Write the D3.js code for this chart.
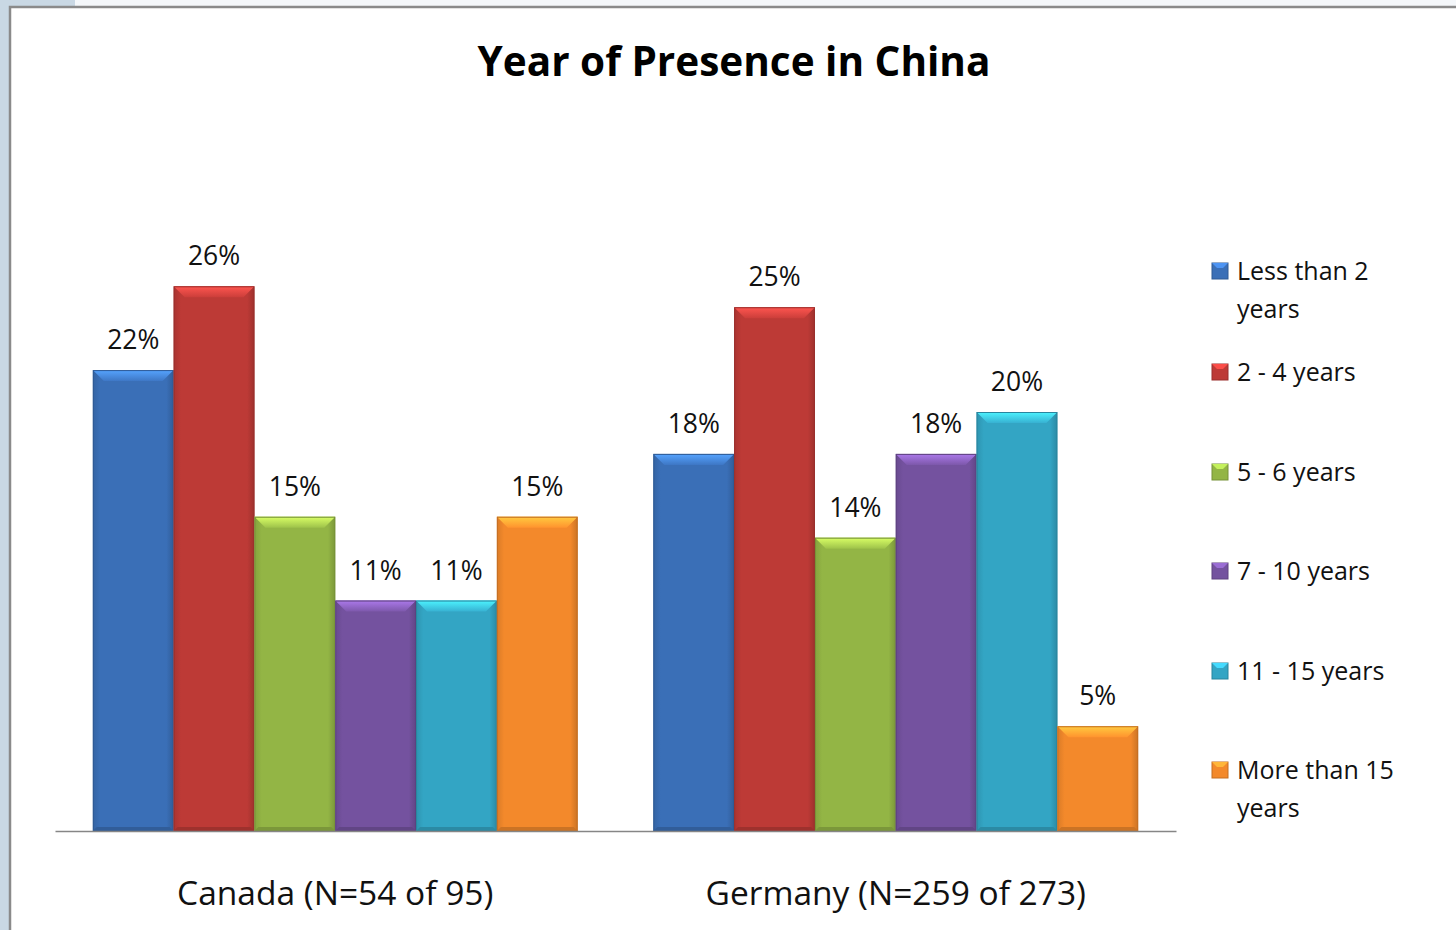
<!DOCTYPE html>
<html>
<head>
<meta charset="utf-8">
<script src="https://cdn.jsdelivr.net/npm/d3@7"></script>
<style>
  html, body { margin: 0; padding: 0; background: #fff; overflow: hidden; }
  svg { display: block; font-family: "Open Sans", "Liberation Sans", sans-serif; }
</style>
</head>
<body>
<div id="container"></div>
<script>
// chart data
const groups = ["Canada (N=54 of 95)", "Germany (N=259 of 273)"];
const seriesNames = ["Less than 2 years", "2 - 4 years", "5 - 6 years", "7 - 10 years", "11 - 15 years", "More than 15 years"];
const canadaValues = [22, 26, 15, 11, 11, 15];
const germanyValues = [18, 25, 14, 18, 20, 5];
const legendLines = [["Less than 2", "years"], ["2 - 4 years"], ["5 - 6 years"], ["7 - 10 years"], ["11 - 15 years"], ["More than 15", "years"]];
const colors = ["#3a6fb7", "#bd3a36", "#93b545", "#74529f", "#33a5c4", "#f3892b"];

const w = 1456;
const h = 930;

const svg = d3.select("#container").
  append("svg").
  attr("width", w).
  attr("height", h);

// window background round the chart frame
svg.append("rect").attr("x", 0).attr("y", 0).attr("width", w).attr("height", h).attr("fill", "#fff");
svg.append("rect").attr("x", 0).attr("y", 0).attr("width", 9).attr("height", h).attr("fill", "#c9d8e4");
svg.append("rect").attr("x", 0).attr("y", 0).attr("width", 75).attr("height", 6).attr("fill", "#c9d8e4");
svg.append("rect").attr("x", 75).attr("y", 0).attr("width", w - 75).attr("height", 6).attr("fill", "#f4f7fa");
svg.append("path").
  attr("d", `M10,${h} L10,7 L${w},7`).
  attr("fill", "none").
  attr("stroke", "#8a8a8a").
  attr("stroke-width", 2.5);

// title
svg.append("text").
  attr("x", 734).
  attr("y", 76).
  attr("text-anchor", "middle").
  attr("font-size", 40.5).
  attr("font-weight", "bold").
  attr("fill", "#000").
  text("Year of Presence in China");

const plotLeft = 55, plotRight = 1176, baseY = 831;

const x0 = d3.scaleBand().
  domain(groups).
  range([plotLeft, plotRight]).
  paddingInner(0.135).
  paddingOuter(0.0675);

const x1 = d3.scaleBand().
  domain(seriesNames).
  range([0, x0.bandwidth()]);

const yScale = d3.scaleLinear().
  domain([0, 30]).
  range([baseY, baseY - 30 * 20.95]);

const rows = [];
groups.forEach((g, gi) => {
  const vals = gi === 0 ? canadaValues : germanyValues;
  seriesNames.forEach((s, si) => rows.push({ group: g, series: s, value: vals[si], color: colors[si] }));
});

// gradients for bevelled bars
const defs = svg.append("defs");
colors.forEach((c, i) => {
  const g = defs.append("linearGradient").attr("id", "face" + i).attr("x1", 0).attr("x2", 1).attr("y1", 0).attr("y2", 0);
  g.append("stop").attr("offset", "0%").attr("stop-color", d3.color(c).darker(0.3));
  g.append("stop").attr("offset", "9%").attr("stop-color", c);
  g.append("stop").attr("offset", "91%").attr("stop-color", c);
  g.append("stop").attr("offset", "100%").attr("stop-color", d3.color(c).darker(0.5));
  const t = defs.append("linearGradient").attr("id", "top" + i).attr("x1", 0).attr("x2", 0).attr("y1", 0).attr("y2", 1);
  t.append("stop").attr("offset", "0%").attr("stop-color", d3.color(c).brighter(1.1));
  t.append("stop").attr("offset", "100%").attr("stop-color", d3.color(c).brighter(0.2));
});

const bev = 11;
const bars = svg.append("g").
  selectAll("g").
  data(rows).
  enter().
  append("g").
  attr("class", "bar");

bars.each(function (d) {
  const si = seriesNames.indexOf(d.series);
  const bx = x0(d.group) + x1(d.series);
  const bw = x1.bandwidth();
  const by = yScale(d.value);
  const bh = baseY - by;
  const g = d3.select(this);
  g.append("rect").
    attr("x", bx).attr("y", by).attr("width", bw).attr("height", bh).
    attr("fill", `url(#face${si})`);
  // top bevel
  g.append("path").
    attr("d", `M${bx},${by} L${bx + bw},${by} L${bx + bw - bev},${by + bev} L${bx + bev},${by + bev} Z`).
    attr("fill", `url(#top${si})`);
  // bottom bevel
  g.append("path").
    attr("d", `M${bx},${baseY} L${bx + bw},${baseY} L${bx + bw - 4},${baseY - 4} L${bx + 4},${baseY - 4} Z`).
    attr("fill", d3.color(d.color).darker(0.5));
  g.append("rect").
    attr("x", bx + 0.5).attr("y", by + 0.5).attr("width", bw - 1).attr("height", bh - 1).
    attr("fill", "none").
    attr("stroke", d3.color(d.color).darker(0.6)).
    attr("stroke-width", 1);
});

// value labels
svg.append("g").
  selectAll("text").
  data(rows).
  enter().
  append("text").
  attr("x", d => x0(d.group) + x1(d.series) + x1.bandwidth() / 2).
  attr("y", d => yScale(d.value) - 21).
  attr("text-anchor", "middle").
  attr("font-size", 26.5).
  attr("fill", "#111").
  text(d => d.value + "%");

// category axis
const xAxis = d3.axisBottom(x0).tickSize(0).tickPadding(50);
const axisG = svg.append("g").
  attr("transform", `translate(0, ${baseY})`).
  call(xAxis);
axisG.select(".domain").attr("stroke", "#868686").attr("stroke-width", 1.5);
axisG.selectAll("text").
  attr("font-size", 33.5).
  attr("font-family", "Open Sans, sans-serif").
  attr("fill", "#111");

// legend
const legend = svg.append("g").attr("transform", "translate(1212, 0)");
const legendY = [271, 372, 472, 571, 671, 770];
legendLines.forEach((lines, i) => {
  const item = legend.append("g").attr("transform", `translate(0, ${legendY[i]})`);
  item.append("rect").
    attr("x", 0).attr("y", -8).attr("width", 16).attr("height", 16).
    attr("fill", colors[i]).
    attr("stroke", d3.color(colors[i]).darker(0.6));
  item.append("path").
    attr("d", "M0,-8 L16,-8 L11,-3 L5,-3 Z").
    attr("fill", d3.color(colors[i]).brighter(0.8));
  lines.forEach((ln, j) => {
    item.append("text").
      attr("x", 25).
      attr("y", j * 38 + 9).
      attr("font-size", 25).
      attr("fill", "#111").
      text(ln);
  });
});
</script>
</body>
</html>
